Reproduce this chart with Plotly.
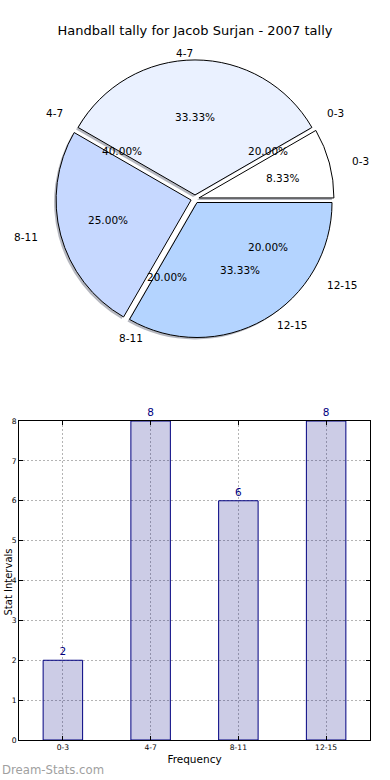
import math
import plotly.graph_objects as go

# ---------------- data ----------------
categories = ["0-3", "4-7", "8-11", "12-15"]
tally_counts = [2, 8, 6, 8]          # visible pie + bars
interval_counts = [1, 2, 1, 1]       # second (label-only) pie layer: 20/40/20/20 %
slice_colors = ["#ffffff", "#eaf1ff", "#c6d8ff", "#b4d4ff"]
y_ticks = [0, 1, 2, 3, 4, 5, 6, 7, 8]

# ---------------- geometry / style ----------------
W, H = 390, 780
FONT = "DejaVu Sans"
PCX, PCY = 195, 199      # pie centre (px)
R = 135                  # pie radius (px)
PULL = 0.03
TRX, TRY = 141, 128      # text placement radii (px)
TEXT_EXPL = 0.04
NAVY = "#000080"
GRID = "#b4b4b4"

# Plotly's counterclockwise pies put the first slice clockwise of `rotation`,
# so shift by the first slice's angle to start it at 3 o'clock.
ROT = 90 - 360 * tally_counts[0] / sum(tally_counts)


def pie_domain(cx, cy):
    half = R * (1 + PULL)
    return dict(x=[(cx - half) / W, (cx + half) / W],
                y=[(H - cy - half) / H, (H - cy + half) / H])


fig = go.Figure()

# shadow
fig.add_trace(go.Pie(
    labels=categories, values=tally_counts, sort=False,
    direction="counterclockwise", rotation=ROT, pull=[PULL] * len(categories),
    marker=dict(colors=["rgba(70,75,95,0.4)"] * len(categories), line=dict(width=0)),
    textinfo="none", hoverinfo="skip", showlegend=False,
    domain=pie_domain(PCX - 2, PCY + 2)))

# main pie
fig.add_trace(go.Pie(
    labels=categories, values=tally_counts, sort=False,
    direction="counterclockwise", rotation=ROT, pull=[PULL] * len(categories),
    marker=dict(colors=slice_colors, line=dict(color="black", width=1)),
    textinfo="none", showlegend=False,
    domain=pie_domain(PCX, PCY)))


def add_pie_texts(values):
    total = sum(values)
    start = 0.0
    for lab, v in zip(categories, values):
        frac = v / total
        mid = 2 * math.pi * (start + frac / 2)
        start += frac
        c, s = math.cos(mid), math.sin(mid)
        px = PCX + (0.6 + TEXT_EXPL) * TRX * c
        py = PCY - (0.6 + TEXT_EXPL) * TRY * s
        fig.add_annotation(x=px / W, y=1 - py / H, xref="paper", yref="paper",
                           text=f"{100 * frac:.2f}%", showarrow=False,
                           xanchor="center", yanchor="middle",
                           font=dict(family=FONT, size=10.5, color="black"))
        lx = PCX + (1.1 + TEXT_EXPL) * TRX * c
        ly = PCY - (1.1 + TEXT_EXPL) * TRY * s
        fig.add_annotation(x=lx / W, y=1 - ly / H, xref="paper", yref="paper",
                           text=lab, showarrow=False,
                           xanchor="left" if c > 1e-9 else "right", yanchor="middle",
                           font=dict(family=FONT, size=10.5, color="black"))


add_pie_texts(tally_counts)
add_pie_texts(interval_counts)

# bars
fig.add_trace(go.Bar(
    x=categories, y=tally_counts, width=0.45,
    marker=dict(color="rgba(0,0,128,0.2)", line=dict(color=NAVY, width=1)),
    text=[str(v) for v in tally_counts], textposition="outside",
    textfont=dict(family=FONT, size=10.5, color=NAVY),
    cliponaxis=False, showlegend=False, hoverinfo="x+y",
    xaxis="x", yaxis="y"))

fig.update_layout(
    width=W, height=H,
    margin=dict(l=0, r=0, t=0, b=0),
    paper_bgcolor="white", plot_bgcolor="white",
    font=dict(family=FONT, color="black"),
    title=dict(text="Handball tally for Jacob Surjan - 2007 tally",
               x=0.5, xanchor="center", y=1 - 30 / H, yanchor="middle",
               font=dict(family=FONT, size=13, color="black")),
    xaxis=dict(domain=[19 / W, 370 / W], range=[-0.5, 3.5], type="category",
               showline=True, mirror="ticks", linecolor="black", linewidth=1,
               ticks="inside", ticklen=4, tickcolor="black",
               showgrid=True, gridcolor=GRID, griddash="2px,2px", gridwidth=1,
               tickfont=dict(family=FONT, size=7.6, color="black"),
               title=dict(text="Frequency", font=dict(family=FONT, size=10.5), standoff=4),
               automargin=False, fixedrange=True),
    yaxis=dict(domain=[40 / H, 359 / H], range=[0, 8], tickvals=y_ticks,
               showline=True, mirror="ticks", linecolor="black", linewidth=1,
               ticks="inside", ticklen=4, tickcolor="black",
               showgrid=True, gridcolor=GRID, griddash="2px,2px", gridwidth=1,
               zeroline=False,
               tickfont=dict(family=FONT, size=7.6, color="black"),
               automargin=False, fixedrange=True),
)

# y-axis title, hugging the left edge
fig.add_annotation(x=0, y=1 - 582 / H, xref="paper", yref="paper",
                   text="Stat Intervals", textangle=-90, showarrow=False,
                   xanchor="left", yanchor="middle",
                   font=dict(family=FONT, size=10, color="black"))

fig.add_annotation(x=0, y=1 - 770 / H, xref="paper", yref="paper",
                   text="Dream-Stats.com", showarrow=False,
                   xanchor="left", yanchor="middle",
                   font=dict(family=FONT, size=11.7, color="#a0a0a0"))

fig.write_html("out.html", config={"displayModeBar": False},
               post_script="document.body.style.margin='0';document.body.style.overflow='hidden';")
